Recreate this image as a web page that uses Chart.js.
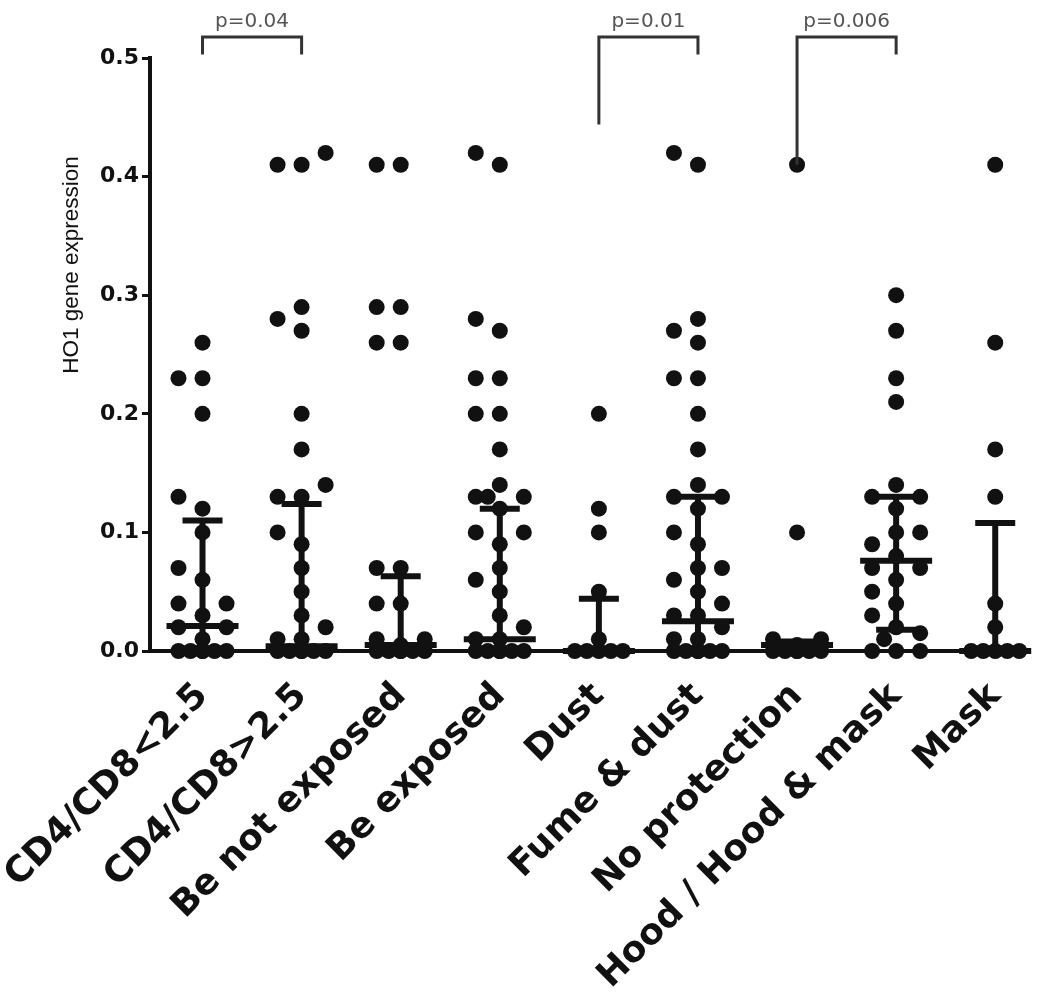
<!DOCTYPE html>
<html>
<head>
<meta charset="utf-8">
<script src="https://cdn.jsdelivr.net/npm/chart.js@4.4.1/dist/chart.umd.min.js"></script>
<style>
  html, body { margin: 0; padding: 0; background: #fff; }
</style>
</head>
<body>
<canvas id="grafico" width="1050" height="1004"></canvas>
<script>
// 1. Datos
const categorias = ['CD4/CD8<2.5', 'CD4/CD8>2.5', 'Be not exposed', 'Be exposed', 'Dust',
  'Fume & dust', 'No protection', 'Hood / Hood & mask', 'Mask'];

const cd4Bajo = [0.26, 0.23, 0.23, 0.20, 0.13, 0.12, 0.10, 0.07, 0.06, 0.04, 0.04, 0.03, 0.02, 0.02, 0.01, 0, 0, 0, 0, 0, 0];
const cd4Alto = [0.42, 0.41, 0.41, 0.29, 0.28, 0.27, 0.20, 0.17, 0.14, 0.13, 0.13, 0.10, 0.09, 0.07, 0.05, 0.03, 0.02, 0.01, 0.01, 0, 0, 0, 0, 0, 0];
const noExpuestos = [0.41, 0.41, 0.29, 0.29, 0.26, 0.26, 0.07, 0.07, 0.04, 0.04, 0.01, 0.01, 0.005, 0, 0, 0, 0, 0, 0];
const expuestos = [0.42, 0.41, 0.28, 0.27, 0.23, 0.23, 0.20, 0.20, 0.17, 0.14, 0.13, 0.13, 0.13, 0.12, 0.10, 0.10, 0.09, 0.07, 0.06, 0.05, 0.03, 0.02, 0.01, 0.01, 0, 0, 0, 0, 0, 0];
const polvo = [0.20, 0.12, 0.10, 0.05, 0.01, 0, 0, 0, 0, 0];
const humoPolvo = [0.42, 0.41, 0.28, 0.27, 0.26, 0.23, 0.23, 0.20, 0.17, 0.14, 0.13, 0.13, 0.12, 0.10, 0.09, 0.07, 0.07, 0.06, 0.05, 0.04, 0.03, 0.03, 0.02, 0.01, 0.01, 0, 0, 0, 0, 0, 0];
const sinProteccion = [0.41, 0.10, 0.01, 0.01, 0.005, 0, 0, 0, 0, 0, 0];
const capucha = [0.30, 0.27, 0.23, 0.21, 0.14, 0.13, 0.13, 0.12, 0.10, 0.10, 0.09, 0.08, 0.07, 0.07, 0.06, 0.05, 0.04, 0.03, 0.02, 0.015, 0.01, 0, 0, 0];
const mascarilla = [0.41, 0.26, 0.17, 0.13, 0.04, 0.02, 0, 0, 0, 0, 0];

const grupos = [cd4Bajo, cd4Alto, noExpuestos, expuestos, polvo, humoPolvo, sinProteccion, capucha, mascarilla];

// mediana y rango intercuartílico (barras)
const medianas = [0.021, 0.004, 0.005, 0.01, 0, 0.025, 0.005, 0.076, 0];
const cuartil1 = [0, 0, 0, 0, 0, 0, 0, 0.018, 0];
const cuartil3 = [0.11, 0.124, 0.063, 0.12, 0.044, 0.13, 0.008, 0.13, 0.108];

const yTicks = [0, 0.1, 0.2, 0.3, 0.4, 0.5];

// comparaciones con valor p
const pares = [[0, 1], [4, 5], [6, 7]];
const pTextos = ['p=0.04', 'p=0.01', 'p=0.006'];
const pBrazoIzq = [0.503, 0.444, 0.41];
const pBrazoDer = [0.503, 0.503, 0.503];
const pTecho = 0.5177;

const fuente = "'Liberation Sans', Arial, sans-serif";
const fuenteAncha = "'DejaVu Sans', sans-serif";

// 2. Reparte los puntos en horizontal para que no se tapen (tipo enjambre)
function repartir(valores) {
  const pxX = 99, pxY = 1186, diam = 16;
  const colocados = [];
  const offs = new Array(valores.length);
  const orden = valores.map((v, i) => ({ v, i })).sort((a, b) => a.v - b.v);
  const cand1 = [0, -24, 24];
  const cand2 = [-12, 12];
  orden.forEach(({ v, i }) => {
    const dist = dx => Math.min(Infinity, ...colocados.map(p => Math.hypot(p.dx - dx, (p.v - v) * pxY)));
    let elegido = cand1.find(dx => dist(dx) >= diam);
    if (elegido === undefined) elegido = cand2.find(dx => dist(dx) >= diam);
    if (elegido === undefined) {
      let mejor = -1;
      [...cand1, ...cand2].forEach(dx => {
        const m = dist(dx);
        if (m > mejor) { mejor = m; elegido = dx; }
      });
    }
    colocados.push({ dx: elegido, v });
    offs[i] = elegido / pxX;
  });
  return offs;
}

const puntos = grupos.flatMap((g, k) => {
  const offs = repartir(g);
  return g.map((v, i) => ({ x: k + offs[i], y: v }));
});

// 3. Plugins: barras de mediana/IQR, corchetes con p y título del eje Y
const barras = {
  id: 'barras',
  afterDatasetsDraw(chart) {
    const { ctx, scales: { x, y } } = chart;
    const linea = (x1, y1, x2, y2) => { ctx.beginPath(); ctx.moveTo(x1, y1); ctx.lineTo(x2, y2); ctx.stroke(); };
    ctx.save();
    ctx.strokeStyle = '#111';
    ctx.lineWidth = 6;
    categorias.forEach((c, k) => {
      const cx = x.getPixelForValue(k);
      const yq1 = y.getPixelForValue(cuartil1[k]);
      const yq3 = y.getPixelForValue(cuartil3[k]);
      const ym = y.getPixelForValue(medianas[k]);
      linea(cx, yq1, cx, yq3);
      linea(cx - 20, yq3, cx + 20, yq3);
      linea(cx - 20, yq1, cx + 20, yq1);
      linea(cx - 36, ym, cx + 36, ym);
    });
    ctx.restore();
  }
};

const corchetes = {
  id: 'corchetes',
  afterDraw(chart) {
    const { ctx, scales: { x, y } } = chart;
    ctx.save();
    ctx.strokeStyle = '#333';
    ctx.lineWidth = 3;
    ctx.fillStyle = '#555';
    ctx.font = '20px ' + fuenteAncha;
    ctx.textAlign = 'center';
    ctx.textBaseline = 'alphabetic';
    pares.forEach(([a, b], i) => {
      const xa = x.getPixelForValue(a), xb = x.getPixelForValue(b);
      const yt = y.getPixelForValue(pTecho);
      ctx.beginPath();
      ctx.moveTo(xa, y.getPixelForValue(pBrazoIzq[i]));
      ctx.lineTo(xa, yt);
      ctx.lineTo(xb, yt);
      ctx.lineTo(xb, y.getPixelForValue(pBrazoDer[i]));
      ctx.stroke();
      ctx.fillText(pTextos[i], (xa + xb) / 2, yt - 10);
    });

    // título del eje Y
    ctx.translate(72, 265);
    ctx.rotate(-Math.PI / 2);
    ctx.fillStyle = '#111';
    ctx.font = '22.5px ' + fuente;
    ctx.textBaseline = 'middle';
    ctx.fillText('HO1 gene expression', 0, 0);
    ctx.restore();
  }
};

// 4. Gráfico
new Chart(document.getElementById('grafico'), {
  type: 'scatter',
  data: {
    datasets: [{
      data: puntos,
      pointRadius: 8,
      pointHoverRadius: 8,
      pointBackgroundColor: '#111',
      pointBorderWidth: 0,
      clip: false
    }]
  },
  options: {
    responsive: false,
    animation: false,
    layout: { padding: { top: 58, right: 30, left: 0, bottom: 0 } },
    plugins: { legend: { display: false }, tooltip: { enabled: false } },
    scales: {
      x: {
        type: 'linear',
        min: -0.53,
        max: 8.25,
        afterBuildTicks: s => { s.ticks = categorias.map((c, i) => ({ value: i })); },
        afterFit: s => { s.height = 353; s.paddingLeft = 0; s.paddingRight = 0; },
        border: { display: true, width: 4, color: '#111' },
        grid: { drawOnChartArea: false, drawTicks: false },
        ticks: {
          autoSkip: false,
          minRotation: 45,
          maxRotation: 45,
          padding: 24,
          color: '#111',
          font: { family: fuenteAncha, size: 36, weight: 'bold' },
          callback: v => categorias[v]
        }
      },
      y: {
        min: 0,
        max: 0.5,
        afterBuildTicks: s => { s.ticks = yTicks.map(v => ({ value: v })); },
        afterFit: s => { s.width = 150; s.paddingTop = 0; s.paddingBottom = 0; },
        border: { display: true, width: 4, color: '#111' },
        grid: { drawOnChartArea: false, color: '#111', lineWidth: 3, tickLength: 8 },
        ticks: {
          padding: 3,
          color: '#111',
          font: { family: fuenteAncha, size: 22, weight: 'bold' },
          callback: v => v.toFixed(1)
        }
      }
    }
  },
  plugins: [barras, corchetes]
});
</script>
</body>
</html>
